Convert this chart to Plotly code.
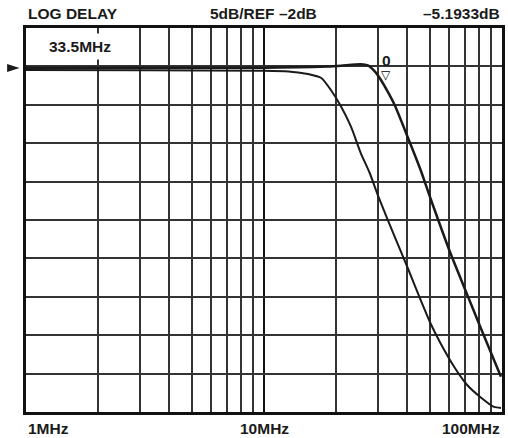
import math
import plotly.graph_objects as go

# ---- data (frequency in MHz, response in dB) ----
freq_a = [1.0, 3.29, 10.0, 13.9, 18.6, 21.1, 25.5, 27.3, 29.2, 31.0, 33.1, 35.4,
          40.1, 45.5, 50.0, 60.7, 70.1, 81.0, 99.0]
db_a = [-2.18, -2.18, -2.18, -2.12, -2.01, -1.91, -1.73, -1.88, -2.66, -3.77, -5.29, -7.03,
        -11.15, -15.49, -19.13, -26.3, -31.1, -35.9, -42.4]

freq_b = [1.0, 3.29, 10.0, 12.7, 13.9, 15.3, 17.4, 19.1, 21.1, 23.2, 25.5, 27.8, 30.4,
          35.4, 40.5, 45.5, 50.0, 55.1, 63.0, 71.4, 81.0, 92.6, 99.0]
db_b = [-2.47, -2.51, -2.57, -2.66, -2.79, -2.99, -3.51, -5.07, -7.25, -9.85, -13.28, -15.88, -19.13,
        -24.17, -28.51, -32.41, -35.41, -38.01, -41.13, -43.48, -45.04, -46.34, -46.47]

x_major_grid = [10]
x_minor_grid = [2, 3, 4, 5, 6, 7, 8, 9, 20, 30, 40, 50, 60, 70, 80, 90]
x_tick_vals = [1, 10, 100]
x_tick_text = ["1MHz", "10MHz", "100MHz"]
y_top, y_bottom, y_ref, y_div = 3, -47, -2, 5

header_left = "LOG DELAY"
header_mid = "5dB/REF \u20132dB"
header_right = "\u20135.1933dB"
marker_freq_text = "33.5MHz"
marker_label = "0"

FONT = "Liberation Sans, Arial, sans-serif"
INK = "#1a1a1a"
FS = 15.5

fig = go.Figure()
fig.add_trace(go.Scatter(x=freq_b, y=db_b, mode="lines", line=dict(color=INK, width=2, shape="spline", smoothing=0.6),
                         hoverinfo="skip", showlegend=False))
fig.add_trace(go.Scatter(x=freq_a, y=db_a, mode="lines", line=dict(color=INK, width=2.5, shape="spline", smoothing=0.6),
                         hoverinfo="skip", showlegend=False))

# plot area geometry in pixels (for decoration placement)
L, R, T, B = 26, 505, 28, 412
W, H = R - L, B - T
def px(xp):
    return (xp - L) / W
def py(yp):
    return 1 - (yp - T) / H

annotations = []
anchors = ["left", "center", "right"]
for v, t, a in zip(x_tick_vals, x_tick_text, anchors):
    annotations.append(dict(x=math.log10(v), xref="x", y=py(428), yref="paper", text="<b>%s</b>" % t,
                            showarrow=False, xanchor=a, yanchor="middle",
                            font=dict(family=FONT, size=FS, color=INK)))
for xx, t, a in [(0, header_left, "left"), (px(265), header_mid, "center"), (1, header_right, "right")]:
    annotations.append(dict(x=xx, xref="paper", y=py(13), yref="paper", text="<b>%s</b>" % t,
                            showarrow=False, xanchor=a, yanchor="middle",
                            font=dict(family=FONT, size=FS, color=INK)))
annotations.append(dict(x=px(80), xref="paper", y=py(46.5), yref="paper", text="<b>%s</b>" % marker_freq_text,
                        showarrow=False, xanchor="center", yanchor="middle", bgcolor="white", borderpad=4,
                        font=dict(family=FONT, size=FS, color=INK)))
annotations.append(dict(x=px(389), xref="paper", y=py(60), yref="paper", text="<b>%s</b>" % marker_label,
                        showarrow=False, xanchor="center", yanchor="middle",
                        font=dict(family=FONT, size=FS, color=INK)))
annotations.append(dict(x=px(388.5), xref="paper", y=py(75), yref="paper", text="\u25BD",
                        showarrow=False, xanchor="center", yanchor="middle",
                        font=dict(family="DejaVu Sans", size=12, color="#000")))

shapes = [
    dict(type="rect", xref="paper", yref="paper", x0=px(379), x1=px(398.5), y0=py(86), y1=py(51),
         fillcolor="white", line=dict(width=0), layer="between"),
    dict(type="path", xref="paper", yref="paper",
         path="M %f,%f L %f,%f L %f,%f Z" % (px(7), py(64), px(19.5), py(68), px(7), py(72)),
         fillcolor=INK, line=dict(width=0)),
]

fig.update_layout(
    width=508, height=438, autosize=False,
    margin=dict(l=L, r=508 - R, t=T, b=438 - B),
    plot_bgcolor="white", paper_bgcolor="white",
    annotations=annotations, shapes=shapes,
    xaxis=dict(type="log", range=[0, 2], tickvals=x_major_grid, showticklabels=False, ticks="",
               showgrid=True, gridcolor="#111", gridwidth=2.2, zeroline=False,
               showline=True, linecolor="#111", linewidth=2.5, mirror=True,
               minor=dict(tickvals=x_minor_grid, showgrid=True, gridcolor="#333", gridwidth=1.5, ticks="")),
    yaxis=dict(range=[y_bottom, y_top], tick0=y_ref, dtick=y_div, tickmode="linear", showticklabels=False,
               ticks="", showgrid=True, gridcolor="#333", gridwidth=1.5, zeroline=False,
               showline=True, linecolor="#111", linewidth=2.5, mirror=True),
)

fig.write_html("out.html", config={"displayModeBar": False},
               post_script="document.body.style.margin='0px';document.body.style.overflow='hidden';")
